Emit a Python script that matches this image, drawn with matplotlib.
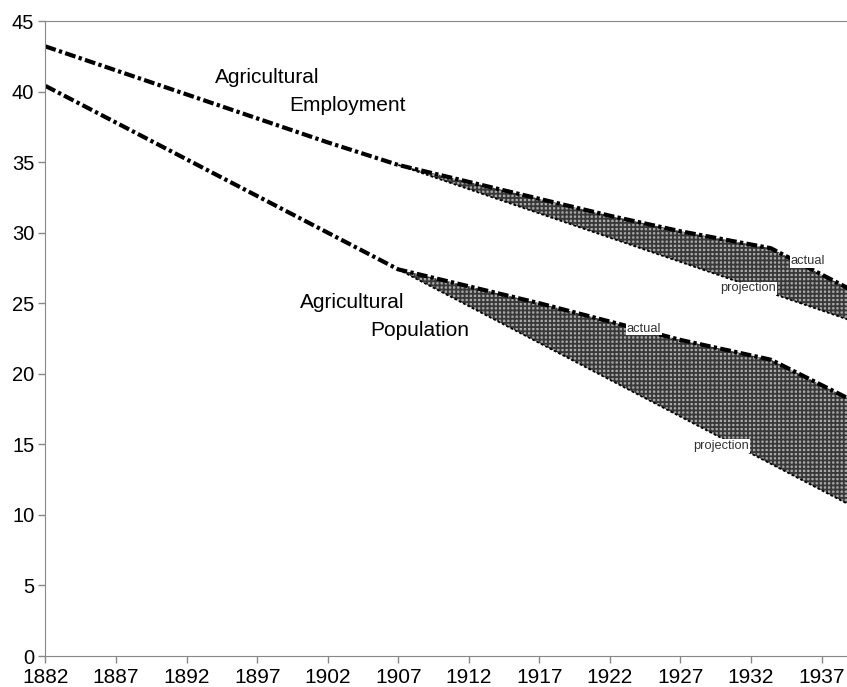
import matplotlib.pyplot as plt
import numpy as np

plt.rcParams['font.family'] = ['Liberation Sans', 'DejaVu Sans']
plt.rcParams['hatch.linewidth'] = 1.3

# actual series (millions)
years = [1882, 1887, 1892, 1897, 1902, 1907, 1912, 1917, 1922, 1927, 1933.4, 1939]
employment = [43.2, 41.5, 39.8, 38.1, 36.4, 34.8, 33.6, 32.4, 31.2, 30.1, 28.9, 26.0]
population = [40.4, 37.8, 35.2, 32.6, 30.0, 27.4, 26.2, 25.0, 23.7, 22.4, 21.0, 18.2]

# projections continuing the 1882-1907 trend
proj_years = [1907, 1939]
employment_proj = [34.8, 23.8]
population_proj = [27.4, 10.7]

xticks = list(range(1882, 1938, 5))
yticks = list(range(0, 46, 5))

fig = plt.figure(figsize=(8.47, 6.87), dpi=100)
ax = fig.add_axes([0.0537, 0.0451, 0.9463, 0.9243])

yrs = np.array(years)
for actual, proj in [(employment, employment_proj), (population, population_proj)]:
    act = np.array(actual)
    mask = yrs >= 1907
    proj_interp = np.interp(yrs[mask], proj_years, proj)
    ax.fill_between(yrs[mask], proj_interp, act[mask], facecolor='#a8a8a8',
                    edgecolor='#383838', hatch='++++', linewidth=0)
    ax.plot(proj_years, proj, color='black', lw=1.3, ls=(0, (1.5, 1.2)))
    ax.plot(years, actual, color='black', lw=3.0, ls=(0, (2.6, 0.8, 0.8, 0.8)),
            solid_capstyle='butt')

ax.text(1894.0, 41.0, 'Agricultural', fontsize=15, va='center', ha='left')
ax.text(1899.3, 39.0, 'Employment', fontsize=15, va='center', ha='left')
ax.text(1900.05, 25.07, 'Agricultural', fontsize=15, va='center', ha='left')
ax.text(1905.0, 23.1, 'Population', fontsize=15, va='center', ha='left')

box = dict(facecolor='white', edgecolor='none', pad=0.6)
ax.text(1934.8, 28.0, 'actual', fontsize=9.3, color='#333333', va='center', bbox=box)
ax.text(1929.8, 26.05, 'projection', fontsize=9.3, color='#333333', va='center', bbox=box)
ax.text(1923.2, 23.2, 'actual', fontsize=9.3, color='#333333', va='center', bbox=box)
ax.text(1927.9, 14.9, 'projection', fontsize=9.3, color='#333333', va='center', bbox=box)

ax.set_xlim(1882, 1938.8)
ax.set_ylim(0, 45)
ax.set_xticks(xticks)
ax.set_yticks(yticks)
ax.tick_params(axis='x', labelsize=15, length=5, width=1, color='#888888', pad=3.5)
ax.tick_params(axis='y', labelsize=14.5, length=5, width=1, color='#888888', pad=3)
for s in ['left', 'bottom', 'top']:
    ax.spines[s].set_color('#888888')
ax.spines['right'].set_visible(False)

fig.savefig('out.png', dpi=100)
